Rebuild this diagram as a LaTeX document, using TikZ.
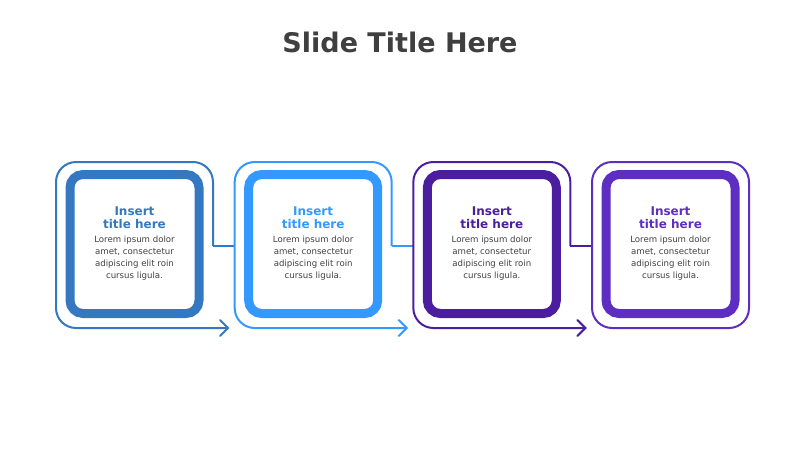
\documentclass[tikz,border=0pt]{standalone}
\usepackage{fontspec}
\setmainfont{DejaVu Sans}
\definecolor{cA}{HTML}{3478C2}
\definecolor{cB}{HTML}{3399FF}
\definecolor{cC}{HTML}{4A1E9E}
\definecolor{cD}{HTML}{5E2DC2}
\definecolor{tgray}{HTML}{3F3F3F}
\definecolor{bgray}{HTML}{404040}
\begin{document}
\begin{tikzpicture}[x=1pt,y=-1pt,
  outerline/.style={line width=2pt},
  innerbox/.style={line width=9pt,rounded corners=13pt},
  titletxt/.style={font=\bfseries\fontsize{12}{15}\selectfont,align=center},
  bodytxt/.style={font=\fontsize{8.6}{12.2}\selectfont,align=center,text=bgray}]
\useasboundingbox (0,0) rectangle (800,450);
\node[font=\bfseries\fontsize{27}{30}\selectfont,text=tgray] (title) at (400,42) {Slide Title Here};
\foreach \i/\c in {1/cA,2/cB,3/cC,4/cD}{
  \pgfmathsetmacro{\L}{56+(\i-1)*178.67}
  \pgfmathsetmacro{\R}{\L+157}
  \pgfmathsetmacro{\N}{\L+178.67}
  \pgfmathsetmacro{\X}{\L+78.5}
  \node[draw=\c,innerbox,minimum width=129pt,minimum height=139pt,fill=white] (in\i) at (\X,244) {};
  \node[titletxt,text=\c] (t\i) at (\X,218) {Insert\\[-2pt]title here};
  \node[bodytxt,anchor=north] (b\i) at (\X,232) {Lorem ipsum dolor\\amet, consectetur\\adipiscing elit roin\\cursus ligula.};
  \ifnum\i<4
    \draw[\c,outerline,rounded corners=20pt] (\R+15,328) -- (\L,328) -- (\L,162) -- (\R,162) -- (\R,246);
    \draw[\c,outerline] (\R,246) -- (\N,246);
    \draw[\c,outerline,line cap=round,line join=miter] (\R+7,320) -- (\R+15,328) -- (\R+7,336);
  \else
    \draw[\c,outerline,rounded corners=20pt] (\L,162) rectangle (\R,328);
  \fi
}
\end{tikzpicture}
\end{document}
